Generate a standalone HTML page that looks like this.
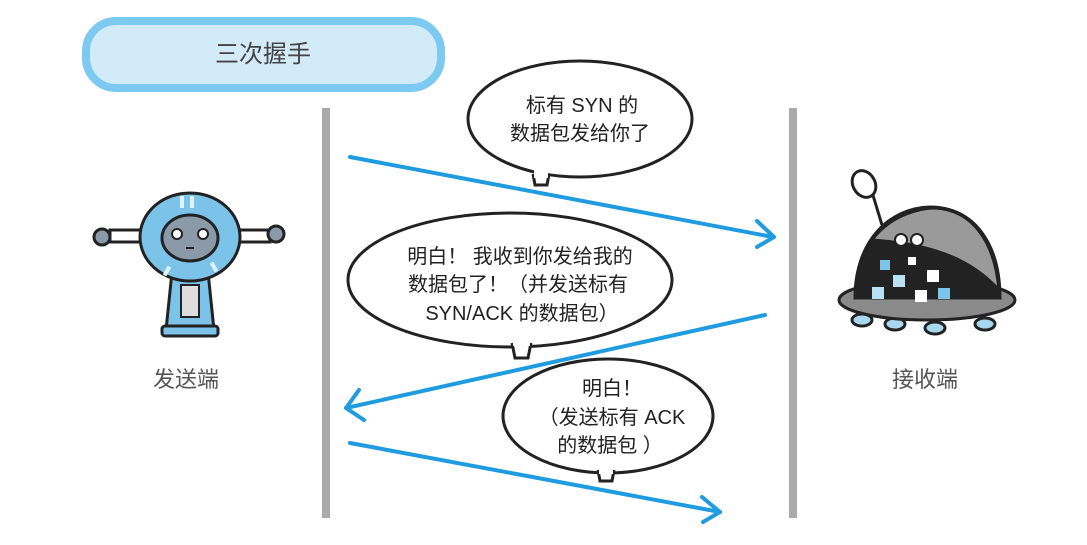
<!DOCTYPE html>
<html><head><meta charset="utf-8"><style>
html,body{margin:0;padding:0;background:#fff;}
svg{display:block;}
text{font-family:"Liberation Sans","Noto Sans CJK SC",sans-serif;}
</style></head><body>
<svg width="1087" height="545" viewBox="0 0 1087 545" xmlns="http://www.w3.org/2000/svg">
<rect width="1087" height="545" fill="#fff"/>
<!-- title pill -->
<rect x="86" y="21" width="355" height="67" rx="30" fill="#d3ebf9" stroke="#7ccaf0" stroke-width="8"/>
<text x="263" y="62" font-size="24" fill="#444" text-anchor="middle">三次握手</text>
<!-- vertical lines -->
<rect x="322" y="108" width="8" height="410" fill="#aaa"/>
<rect x="789" y="108" width="8" height="410" fill="#aaa"/>
<!-- arrows -->
<g stroke="#1f9be0" stroke-width="4" fill="none" stroke-linecap="round" stroke-linejoin="round">
<line x1="350" y1="157" x2="773" y2="237"/>
<polyline points="757,221 774,237 757,247"/>
<line x1="765" y1="315" x2="346" y2="408"/>
<polyline points="359,390 346,408 364,420"/>
<line x1="350" y1="443" x2="720" y2="512"/>
<polyline points="702,497 720,512 703,522"/>
</g>
<!-- bubbles -->
<g stroke="#222" stroke-width="3" fill="#fff">
<ellipse cx="580" cy="119" rx="112" ry="58"/>
<path d="M533,174 L535,185 L547,185 L549,174" />
<ellipse cx="510" cy="280" rx="162" ry="67"/>
<path d="M512,343 L515,358 L528,358 L531,343"/>
<ellipse cx="608" cy="416" rx="105" ry="57"/>
<path d="M598,470 L600,481 L612,481 L614,470"/>
</g>
<g fill="#fff"><rect x="534" y="170" width="14" height="8"/><rect x="513" y="338" width="17" height="8"/><rect x="599" y="466" width="14" height="8"/></g>
<g font-size="20" fill="#222" text-anchor="middle">
<text x="582" y="112">标有 SYN 的</text>
<text x="580" y="140">数据包发给你了</text>
<text x="520" y="263">明白！ 我收到你发给我的</text>
<text x="518" y="291">数据包了！（并发送标有</text>
<text x="522" y="320">SYN/ACK 的数据包）</text>
<text x="612" y="395">明白！</text>
<text x="612" y="424">（发送标有 ACK</text>
<text x="610" y="452">的数据包 ）</text>
</g>
<!-- left robot -->
<g stroke="#222" stroke-width="3">
<rect x="110" y="230" width="38" height="12" fill="#fff"/>
<rect x="232" y="230" width="38" height="12" fill="#fff"/>
<circle cx="102" cy="237" r="8" fill="#8a9aa8"/>
<circle cx="276" cy="234" r="8" fill="#8a9aa8"/>
<path d="M172,272 L208,272 L214,330 L166,330 Z" fill="#7cc3ea"/>
<rect x="181" y="285" width="18" height="32" fill="#ddd" stroke-width="2"/>
<rect x="162" y="326" width="56" height="10" rx="3" fill="#7cc3ea"/>
<ellipse cx="190" cy="237" rx="50" ry="44" fill="#7cc3ea"/>
<ellipse cx="190" cy="238" rx="28" ry="23" fill="#8a9aa8"/>
<circle cx="177" cy="234" r="5" fill="#fff" stroke-width="2"/>
<circle cx="203" cy="234" r="5" fill="#fff" stroke-width="2"/>
<line x1="186" y1="248" x2="194" y2="248" stroke-width="2"/>
</g>
<g fill="#dff2fc"><rect x="180" y="196" width="4" height="12"/><rect x="190" y="196" width="4" height="12"/><rect x="165" y="266" width="4" height="10" transform="rotate(30 167 271)"/><rect x="212" y="262" width="4" height="10" transform="rotate(-30 214 267)"/></g>
<text x="186" y="387" font-size="22" fill="#555" text-anchor="middle">发送端</text>
<!-- right robot -->
<g stroke="#222" stroke-width="3">
<line x1="872" y1="192" x2="882" y2="225"/>
<ellipse cx="864" cy="184" rx="11" ry="14" fill="#fff" transform="rotate(-30 864 184)"/>
<ellipse cx="895" cy="324" rx="10" ry="6" fill="#a8d8f0"/>
<ellipse cx="935" cy="328" rx="10" ry="6" fill="#a8d8f0"/>
<ellipse cx="985" cy="324" rx="10" ry="6" fill="#a8d8f0"/>
<ellipse cx="862" cy="320" rx="10" ry="6" fill="#a8d8f0"/>
<ellipse cx="927" cy="300" rx="88" ry="20" fill="#8a8a8a"/>
<path d="M855,298 C855,240 890,208 930,207 C975,207 1000,245 1000,298 Z" fill="#222"/>
<path d="M872,240 C890,215 920,208 935,208 C975,210 995,245 999,290 C980,270 950,245 872,240 Z" fill="#9a9a9a"/>
<circle cx="901" cy="240" r="6" fill="#fff" stroke-width="2"/>
<circle cx="917" cy="240" r="6" fill="#fff" stroke-width="2"/>
</g>
<g fill="#fff"><rect x="880" y="260" width="10" height="10" fill="#7cc3ea"/><rect x="908" y="257" width="8" height="8"/><rect x="927" y="270" width="12" height="12"/><rect x="893" y="275" width="12" height="12" fill="#b9e1f5"/><rect x="872" y="287" width="12" height="12" fill="#b9e1f5"/><rect x="938" y="288" width="12" height="11" fill="#7cc3ea"/><rect x="915" y="290" width="12" height="12"/></g>
<text x="925" y="387" font-size="22" fill="#555" text-anchor="middle">接收端</text>
</svg>
</body></html>
